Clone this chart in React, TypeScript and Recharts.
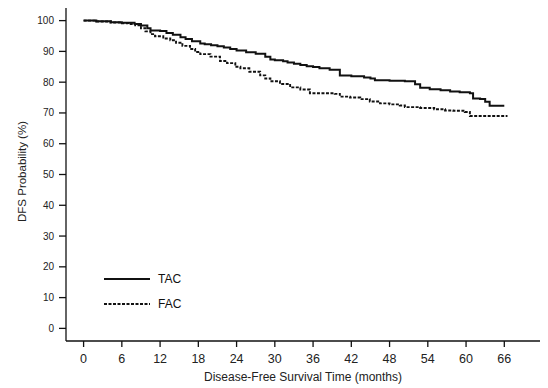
import { Legend, Line, LineChart, XAxis, YAxis } from "recharts";

// Kaplan-Meier disease-free survival.
const tacMonths = [
  0, 2, 4.3, 6, 8, 9, 10, 10.5, 12, 13, 14, 15.2, 16, 17, 18.3, 19, 20, 21, 22,
  23, 24, 25.5, 27, 28.5, 29.3, 30, 31.3, 32, 33, 34, 35, 36, 37, 38.6, 40.2,
  42, 44, 45, 45.7, 48, 50.4, 52, 52.8, 54.3, 56, 57.5, 59, 60.6, 61.1, 62.2,
  63, 63.7, 66,
];
const tacDfs = [
  100, 99.8, 99.5, 99.3, 98.9, 98.4, 97.5, 96.8, 96.6, 96.0, 95.4, 94.6, 94.0,
  93.3, 92.6, 92.3, 92.0, 91.7, 91.3, 90.8, 90.3, 89.7, 89.2, 88.3, 87.4, 87.1,
  86.8, 86.4, 86.0, 85.6, 85.2, 84.9, 84.5, 84.0, 82.2, 81.9, 81.5, 81.2, 80.6,
  80.5, 80.3, 79.3, 78.2, 77.7, 77.4, 77.0, 76.7, 76.4, 74.7, 74.5, 73.6, 72.3,
  72.3,
];

const facMonths = [
  0, 2, 4.2, 6, 7, 8.1, 9, 9.7, 10.5, 11.2, 12.5, 13.6, 14.5, 15.5, 16.7, 17.5,
  18.3, 19.9, 21.4, 22.5, 23.8, 24.6, 26, 27.7, 28.5, 29.3, 30.8, 32.4, 34,
  35.5, 39.4, 40.2, 41.8, 43.4, 44.9, 46.5, 48, 49.6, 50.4, 52.8, 55, 56.7, 58,
  59.8, 60.6, 66.5,
];
const facDfs = [
  100, 99.7, 99.4, 99.1, 98.9, 98.5, 97.5, 96.5, 95.6, 94.9, 94.2, 93.6, 92.8,
  91.8, 90.8, 89.8, 89.1, 88.3, 86.9, 86.2, 85.0, 84.5, 83.4, 82.2, 81.2, 80.3,
  79.4, 78.3, 77.6, 76.4, 76.2, 75.3, 75.0, 74.5, 73.7, 73.1, 72.8, 72.4, 71.9,
  71.6, 71.2, 70.8, 70.7, 70.3, 69.0, 69.0,
];

const xTicks = [0, 6, 12, 18, 24, 30, 36, 42, 48, 54, 60, 66];
const yTicks = [0, 10, 20, 30, 40, 50, 60, 70, 80, 90, 100];

const tacData = tacMonths.map((month, i) => ({ month, dfs: tacDfs[i] }));
const facData = facMonths.map((month, i) => ({ month, dfs: facDfs[i] }));

const FONT = '"Liberation Sans", Arial, sans-serif';
const INK = "#111";

function SurvivalLegend() {
  const rows = [
    { label: "TAC", dash: undefined },
    { label: "FAC", dash: "3 1.5" },
  ];
  return (
    <div style={{ fontFamily: FONT, fontSize: 12, color: INK }}>
      {rows.map((r) => (
        <div
          key={r.label}
          style={{ display: "flex", alignItems: "center", height: 25 }}
        >
          <svg width={46} height={6} style={{ marginRight: 8 }}>
            <line
              x1={0}
              y1={3}
              x2={46}
              y2={3}
              stroke={INK}
              strokeWidth={2}
              strokeDasharray={r.dash}
            />
          </svg>
          {r.label}
        </div>
      ))}
    </div>
  );
}

export default function App() {
  return (
    <div
      style={{
        position: "fixed",
        left: 0,
        top: 0,
        width: 548,
        height: 388,
        background: "#fff",
      }}
    >
      <LineChart
        width={548}
        height={388}
        margin={{ top: 8, right: 8, bottom: 0, left: 0 }}
      >
        <XAxis
          type="number"
          dataKey="month"
          domain={[-2.76, 71.6]}
          allowDataOverflow
          ticks={xTicks}
          interval={0}
          height={47}
          stroke={INK}
          strokeWidth={1.3}
          tickSize={6}
          tickMargin={7}
          tick={{ fill: "#222", fontSize: 12.5, fontFamily: FONT }}
          label={{
            value: "Disease-Free Survival Time (months)",
            position: "insideBottom",
            offset: 7,
            fill: "#222",
            fontSize: 12,
            fontFamily: FONT,
          }}
        />
        <YAxis
          type="number"
          domain={[-4.1, 104.1]}
          allowDataOverflow
          ticks={yTicks}
          interval={0}
          width={66}
          stroke={INK}
          strokeWidth={1.3}
          tickSize={7}
          tickMargin={5}
          tick={{ fill: "#222", fontSize: 10, fontFamily: FONT }}
          label={{
            value: "DFS Probability (%)",
            angle: -90,
            position: "insideLeft",
            offset: 22,
            dy: -3,
            fill: "#222",
            fontSize: 11.5,
            fontFamily: FONT,
            style: { textAnchor: "middle" },
          }}
        />
        <Legend
          layout="vertical"
          align="center"
          verticalAlign="middle"
          wrapperStyle={{ left: 104, top: 266, width: 100 }}
          content={() => <SurvivalLegend />}
        />
        <Line
          data={tacData}
          dataKey="dfs"
          name="TAC"
          type="stepAfter"
          stroke={INK}
          strokeWidth={2}
          dot={false}
          isAnimationActive={false}
        />
        <Line
          data={facData}
          dataKey="dfs"
          name="FAC"
          type="stepAfter"
          stroke={INK}
          strokeWidth={1.9}
          strokeDasharray="3 1.5"
          dot={false}
          isAnimationActive={false}
        />
      </LineChart>
    </div>
  );
}
